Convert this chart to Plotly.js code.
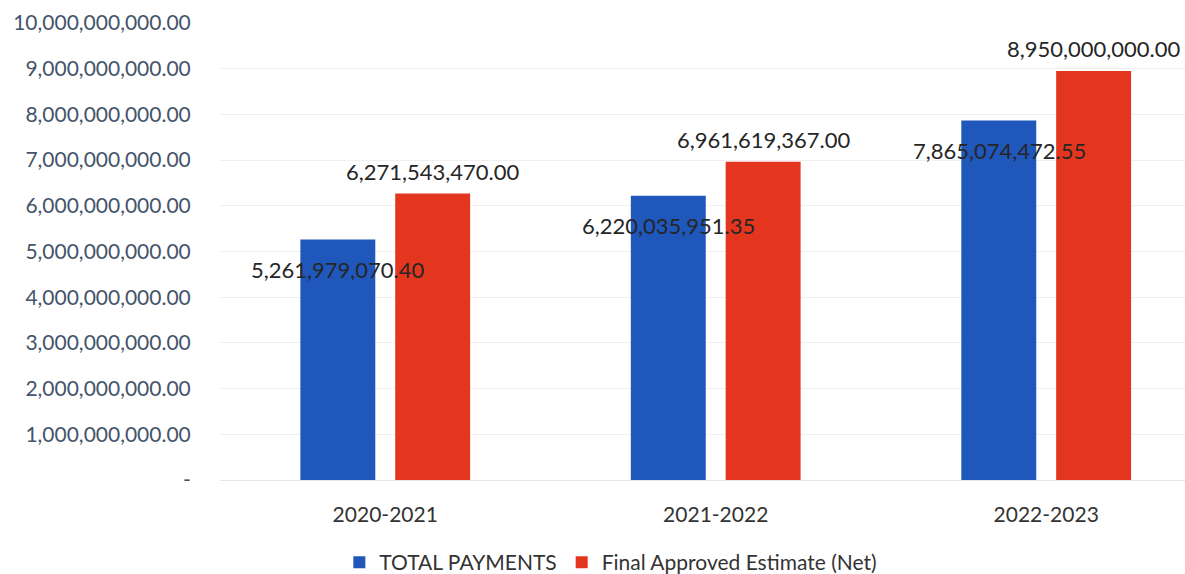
<!DOCTYPE html>
<html>
<head>
<meta charset="utf-8">
<script src="https://cdn.plot.ly/plotly-3.0.1.min.js"></script>
<style>html,body{margin:0;padding:0;background:#fff;}#chart{width:1185px;height:574px;}</style>
</head>
<body>
<div id="chart"></div>
<script>
const categories = ["2020-2021", "2021-2022", "2022-2023"];
const totalPayments = [5261979070.40, 6220035951.35, 7865074472.55];
const finalApproved = [6271543470.00, 6961619367.00, 8950000000.00];
const seriesNames = ["TOTAL PAYMENTS", "Final Approved Estimate (Net)"];
const yTickVals = [0,1e9,2e9,3e9,4e9,5e9,6e9,7e9,8e9,9e9,1e10];
const yTickText = ["-","1,000,000,000.00","2,000,000,000.00","3,000,000,000.00","4,000,000,000.00","5,000,000,000.00","6,000,000,000.00","7,000,000,000.00","8,000,000,000.00","9,000,000,000.00","10,000,000,000.00"];

const fmt = v => v.toLocaleString("en-US", {minimumFractionDigits: 2, maximumFractionDigits: 2});
const BLUE = "#1f57ba", RED = "#e4361f";
const FONT = "Lato, 'Open Sans', sans-serif";

const traces = [
  {type: "bar", name: seriesNames[0], x: categories, y: totalPayments, marker: {color: BLUE}},
  {type: "bar", name: seriesNames[1], x: categories, y: finalApproved, marker: {color: RED}}
];

const annotations = [];
categories.forEach((c, i) => {
  annotations.push({x: c, y: totalPayments[i], xref: "x", yref: "y", text: fmt(totalPayments[i]),
    showarrow: false, xshift: -47, yshift: -30, yanchor: "middle",
    font: {family: FONT, size: 22, color: "#262626"}});
  annotations.push({x: c, y: finalApproved[i], xref: "x", yref: "y", text: fmt(finalApproved[i]),
    showarrow: false, xshift: 48, yshift: 22, yanchor: "middle",
    font: {family: FONT, size: 22, color: "#262626"}});
});

const layout = {
  width: 1185, height: 574,
  margin: {l: 220, r: 0, t: 23, b: 94},
  paper_bgcolor: "#fff", plot_bgcolor: "#fff",
  barmode: "group", bargap: 0.426, bargroupgap: 0.21,
  font: {family: FONT, size: 21, color: "#44546a"},
  xaxis: {range: [-0.5, 2.42], showgrid: false, zeroline: false, showline: false,
    ticks: "outside", ticklen: 16, tickcolor: "rgba(0,0,0,0)",
    tickfont: {family: FONT, size: 21, color: "#333"}},
  yaxis: {range: [0, 1e10], tickvals: yTickVals, ticktext: yTickText,
    showgrid: true, gridcolor: "#f0f0f0", zeroline: true, zerolinecolor: "#e6e6e6",
    ticks: "outside", ticklen: 24, tickcolor: "rgba(0,0,0,0)",
    tickfont: {family: FONT, size: 21, color: "#44546a"}},
  showlegend: true,
  legend: {orientation: "h", x: 0.405, xanchor: "center", yref: "container", y: 0.02, yanchor: "middle",
    itemwidth: 30, font: {family: FONT, size: 21, color: "#333"}},
  annotations: annotations
};

Plotly.newPlot("chart", traces, layout, {displayModeBar: false, staticPlot: true});
</script>
</body>
</html>
